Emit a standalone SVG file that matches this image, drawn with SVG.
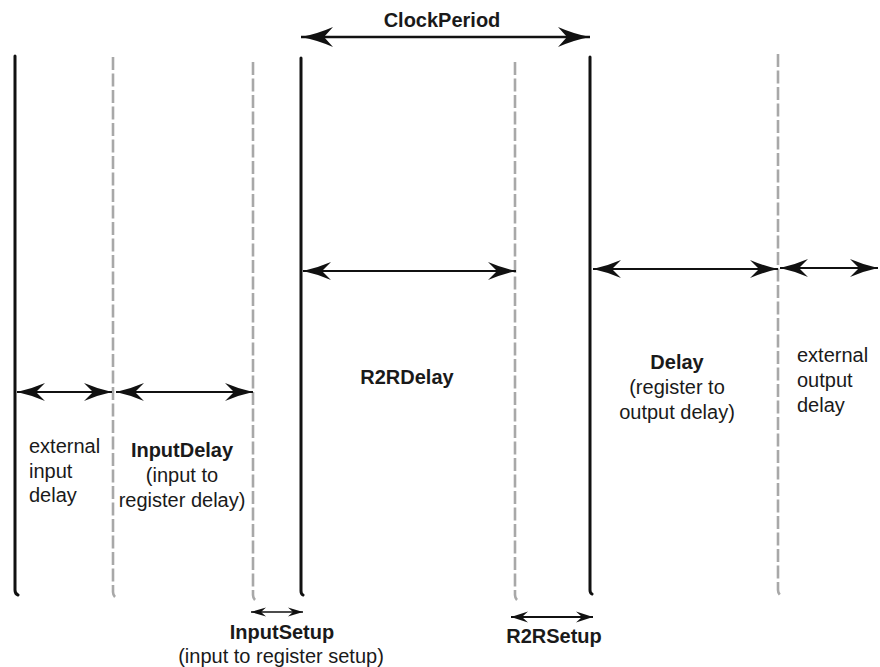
<svg xmlns="http://www.w3.org/2000/svg" width="880" height="667" viewBox="0 0 880 667">
  <style>
    text { font-family: "Liberation Sans", Arial, sans-serif; font-size: 20px; fill: #1a1a1a; }
    .b { font-weight: bold; }
    .m { text-anchor: middle; }
    .edge { stroke: #111; stroke-width: 3; fill: none; stroke-linecap: round; }
    .dash { stroke: #a8a8a8; stroke-width: 2.6; fill: none; stroke-dasharray: 13 3.5; }
    .arr { stroke: #111; stroke-width: 2; fill: none; }
    .arr-lg { stroke: #111; stroke-width: 2.5; fill: none; marker-start: url(#headL); marker-end: url(#headL); }
    .arr-md { marker-start: url(#headM); marker-end: url(#headM); }
    .arr-sm { stroke-width: 1.6; marker-start: url(#headS); marker-end: url(#headS); }
    .arr-ss { stroke-width: 1.8; marker-start: url(#headR); marker-end: url(#headR); }
  </style>
  <defs>
    <marker id="headL" markerUnits="userSpaceOnUse" orient="auto-start-reverse" refX="0" refY="0" markerWidth="1" markerHeight="1" overflow="visible">
      <path d="M0,0 Q-16,-3 -32,-10 L-23,0 L-32,10 Q-16,3 0,0 Z" fill="#111"/>
    </marker>
    <marker id="headM" markerUnits="userSpaceOnUse" orient="auto-start-reverse" refX="0" refY="0" markerWidth="1" markerHeight="1" overflow="visible">
      <path d="M0,0 Q-14,-3 -28,-9 L-19,0 L-28,9 Q-14,3 0,0 Z" fill="#111"/>
    </marker>
    <marker id="headS" markerUnits="userSpaceOnUse" orient="auto-start-reverse" refX="0" refY="0" markerWidth="1" markerHeight="1" overflow="visible">
      <path d="M0,0 L-15,-4.5 L-10,0 L-15,4.5 Z" fill="#111"/>
    </marker>
    <marker id="headR" markerUnits="userSpaceOnUse" orient="auto-start-reverse" refX="0" refY="0" markerWidth="1" markerHeight="1" overflow="visible">
      <path d="M0,0 L-17,-5.5 L-11,0 L-17,5.5 Z" fill="#111"/>
    </marker>
  </defs>

  <!-- clock edges (solid) and delay boundaries (dashed) -->
  <g id="timeline">
    <path class="edge" d="M15,56 V590 Q15,594 18,595"/>
    <path class="dash" d="M113,57 V592 Q113,595 115,597"/>
    <path class="dash" d="M253,62 V595 Q253,598 255,600"/>
    <path class="edge" d="M301,58 V591 Q301,594 303,595"/>
    <path class="dash" d="M515,62 V595 Q515,598 517,600"/>
    <path class="edge" d="M590,57 V590 Q590,593 592,594"/>
    <path class="dash" d="M778,54 V590 Q778,593 780,595"/>
  </g>

  <!-- span arrows -->
  <g id="connectors">
    <line class="arr-lg" x1="301" y1="37" x2="590" y2="37"/>
    <line class="arr arr-md" x1="303" y1="271" x2="516" y2="271"/>
    <line class="arr arr-md" x1="593" y1="269" x2="778" y2="269"/>
    <line class="arr arr-md" x1="780" y1="268" x2="878" y2="268"/>
    <line class="arr arr-md" x1="17" y1="392" x2="112" y2="392"/>
    <line class="arr arr-md" x1="116" y1="392" x2="253" y2="392"/>
    <line class="arr arr-sm" x1="251" y1="612" x2="303" y2="612"/>
    <line class="arr arr-ss" x1="511" y1="617" x2="593" y2="617"/>
  </g>

  <g id="clock-period">
    <text class="b m" x="442" y="27">ClockPeriod</text>
  </g>
  <g id="r2r-delay">
    <text class="b m" x="407" y="384">R2RDelay</text>
  </g>
  <g id="output-delay">
    <text class="b m" x="677" y="369">Delay</text>
    <text class="m" x="677" y="394">(register to</text>
    <text class="m" x="677" y="419">output delay)</text>
  </g>
  <g id="external-output-delay">
    <text x="797" y="362">external</text>
    <text x="797" y="387">output</text>
    <text x="797" y="412">delay</text>
  </g>
  <g id="external-input-delay">
    <text x="29" y="453">external</text>
    <text x="29" y="478">input</text>
    <text x="29" y="502">delay</text>
  </g>
  <g id="input-delay">
    <text class="b m" x="182" y="457">InputDelay</text>
    <text class="m" x="182" y="482">(input to</text>
    <text class="m" x="182" y="507">register delay)</text>
  </g>
  <g id="input-setup">
    <text class="b m" x="282" y="639">InputSetup</text>
    <text class="m" x="281" y="663">(input to register setup)</text>
  </g>
  <g id="r2r-setup">
    <text class="b m" x="554" y="643">R2RSetup</text>
  </g>
</svg>
